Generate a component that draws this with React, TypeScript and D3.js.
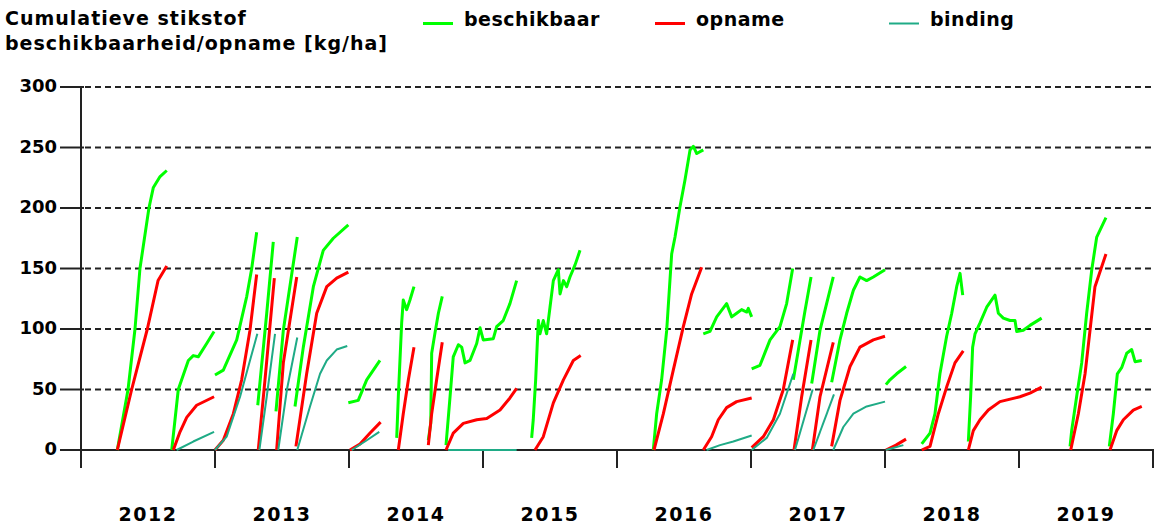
import React from 'react';
import * as d3 from 'd3';

type Pt = [number, number];

// cumulatieve N per teeltperiode: [jaar (decimaal), kg/ha]
const beschikbaar: Pt[][] = [
  [[2012.271, 0], [2012.351, 50], [2012.403, 100], [2012.44, 150], [2012.507, 200], [2012.54, 217], [2012.59, 226], [2012.64, 231]],
  [[2012.677, 0], [2012.726, 50], [2012.801, 74], [2012.838, 78], [2012.875, 77], [2012.938, 88], [2012.993, 98]],
  [[2013.0, 62], [2013.062, 66], [2013.162, 91], [2013.237, 127], [2013.274, 150], [2013.311, 180]],
  [[2013.319, 37], [2013.386, 113], [2013.435, 172]],
  [[2013.455, 32], [2013.51, 99], [2013.614, 176]],
  [[2013.597, 36], [2013.659, 85], [2013.734, 135], [2013.808, 165], [2013.883, 175], [2013.995, 186]],
  [[2013.995, 39], [2014.069, 41], [2014.132, 58], [2014.231, 74]],
  [[2014.356, 10], [2014.368, 44], [2014.393, 105], [2014.405, 124], [2014.43, 116], [2014.455, 124], [2014.485, 135]],
  [[2014.592, 8], [2014.61, 22], [2014.617, 80], [2014.642, 97], [2014.667, 113], [2014.696, 127]],
  [[2014.724, 4], [2014.754, 44], [2014.778, 77], [2014.816, 87], [2014.841, 85], [2014.866, 72], [2014.903, 74], [2014.953, 88], [2014.978, 101], [2015.002, 91], [2015.077, 92], [2015.102, 102], [2015.151, 107], [2015.201, 121], [2015.251, 140]],
  [[2015.363, 10], [2015.375, 25], [2015.393, 58], [2015.405, 88], [2015.413, 107], [2015.425, 96], [2015.45, 107], [2015.475, 96], [2015.5, 118], [2015.525, 140], [2015.562, 149], [2015.575, 129], [2015.6, 140], [2015.625, 135], [2015.649, 143], [2015.687, 153], [2015.724, 165]],
  [[2016.271, 0], [2016.296, 30], [2016.333, 58], [2016.371, 99], [2016.408, 162], [2016.433, 176], [2016.47, 201], [2016.507, 223], [2016.545, 248], [2016.57, 251], [2016.595, 245], [2016.644, 248]],
  [[2016.644, 96], [2016.694, 98], [2016.744, 110], [2016.818, 121], [2016.856, 110], [2016.893, 113], [2016.93, 116], [2016.968, 114], [2016.98, 117], [2017.005, 110]],
  [[2017.005, 67], [2017.067, 70], [2017.142, 91], [2017.216, 102], [2017.266, 121], [2017.311, 150]],
  [[2017.316, 58], [2017.366, 91], [2017.403, 115], [2017.448, 143]],
  [[2017.453, 55], [2017.515, 99], [2017.614, 143]],
  [[2017.602, 56], [2017.664, 91], [2017.714, 113], [2017.764, 132], [2017.813, 143], [2017.863, 140], [2017.913, 143], [2018.0, 149]],
  [[2018.007, 54], [2018.037, 58], [2018.087, 63], [2018.157, 69]],
  [[2018.274, 5], [2018.336, 14], [2018.373, 30], [2018.41, 63], [2018.46, 94], [2018.498, 113], [2018.535, 135], [2018.56, 146], [2018.58, 128]],
  [[2018.622, 7], [2018.639, 44], [2018.654, 85], [2018.672, 96], [2018.709, 105], [2018.759, 118], [2018.821, 128], [2018.846, 113], [2018.883, 109], [2018.933, 107], [2018.97, 107], [2018.983, 98], [2019.032, 99], [2019.082, 103], [2019.169, 109]],
  [[2019.381, 3], [2019.393, 16], [2019.43, 44], [2019.468, 72], [2019.505, 113], [2019.543, 149], [2019.58, 176], [2019.649, 192]],
  [[2019.674, 3], [2019.704, 30], [2019.734, 63], [2019.766, 68], [2019.804, 80], [2019.841, 83], [2019.866, 73], [2019.916, 74]],
];

const opname: Pt[][] = [
  [[2012.271, 0], [2012.378, 50], [2012.495, 100], [2012.575, 140], [2012.64, 152]],
  [[2012.689, 0], [2012.739, 15], [2012.789, 27], [2012.863, 37], [2012.993, 44]],
  [[2013.0, 0], [2013.062, 8], [2013.137, 30], [2013.199, 58], [2013.261, 99], [2013.311, 145]],
  [[2013.323, 0], [2013.373, 58], [2013.443, 142]],
  [[2013.46, 0], [2013.51, 72], [2013.61, 143]],
  [[2013.604, 3], [2013.684, 63], [2013.759, 113], [2013.834, 135], [2013.908, 142], [2013.995, 147]],
  [[2014.007, 0], [2014.082, 5], [2014.157, 14], [2014.236, 23]],
  [[2014.368, 0], [2014.405, 30], [2014.443, 58], [2014.485, 85]],
  [[2014.592, 4], [2014.617, 30], [2014.654, 58], [2014.696, 89]],
  [[2014.724, 0], [2014.778, 14], [2014.853, 22], [2014.953, 25], [2015.028, 26], [2015.127, 33], [2015.201, 43], [2015.251, 51]],
  [[2015.388, 0], [2015.45, 11], [2015.525, 39], [2015.6, 58], [2015.674, 74], [2015.729, 78]],
  [[2016.276, 0], [2016.346, 30], [2016.42, 66], [2016.495, 102], [2016.557, 129], [2016.632, 151]],
  [[2016.644, 0], [2016.706, 11], [2016.756, 25], [2016.818, 35], [2016.893, 40], [2017.005, 43]],
  [[2017.005, 2], [2017.092, 11], [2017.167, 25], [2017.241, 50], [2017.311, 91]],
  [[2017.321, 0], [2017.378, 44], [2017.448, 91]],
  [[2017.458, 0], [2017.515, 44], [2017.614, 89]],
  [[2017.602, 3], [2017.664, 41], [2017.739, 69], [2017.813, 85], [2017.913, 91], [2018.0, 94]],
  [[2018.007, 0], [2018.082, 4], [2018.157, 9]],
  [[2018.274, 0], [2018.336, 3], [2018.398, 30], [2018.46, 52], [2018.522, 72], [2018.584, 82]],
  [[2018.622, 0], [2018.659, 16], [2018.709, 25], [2018.771, 33], [2018.858, 40], [2019.007, 44], [2019.082, 47], [2019.169, 52]],
  [[2019.386, 0], [2019.443, 30], [2019.493, 63], [2019.53, 99], [2019.567, 135], [2019.649, 162]],
  [[2019.679, 0], [2019.729, 16], [2019.779, 25], [2019.853, 33], [2019.916, 36]],
];

const binding: Pt[][] = [
  [[2012.714, 0], [2012.838, 7], [2012.993, 15]],
  [[2013.0, 0], [2013.087, 11], [2013.187, 44], [2013.261, 74], [2013.316, 96]],
  [[2013.331, 0], [2013.386, 44], [2013.448, 96]],
  [[2013.472, 0], [2013.537, 50], [2013.614, 93]],
  [[2013.614, 0], [2013.709, 36], [2013.784, 63], [2013.834, 74], [2013.908, 83], [2013.987, 86]],
  [[2014.02, 0], [2014.119, 7], [2014.226, 15]],
  [[2014.739, 0], [2015.251, 0]],
  [[2016.669, 0], [2016.769, 4], [2016.868, 7], [2017.005, 12]],
  [[2017.005, 0], [2017.117, 10], [2017.216, 30], [2017.316, 63]],
  [[2017.328, 0], [2017.46, 50]],
  [[2017.465, 0], [2017.619, 46]],
  [[2017.614, 0], [2017.689, 19], [2017.764, 30], [2017.863, 36], [2018.0, 40]],
  [[2018.007, 0], [2018.137, 4]],
];

const years = [2012, 2013, 2014, 2015, 2016, 2017, 2018, 2019];
const yTicks = [0, 50, 100, 150, 200, 250, 300];

const legend = [
  { name: 'beschikbaar', color: '#00ff00', w: 3, x: 423 },
  { name: 'opname', color: '#ff0000', w: 3, x: 655 },
  { name: 'binding', color: '#1fab86', w: 2, x: 889 },
];

const FONT = '"DejaVu Sans", sans-serif';

export default function App() {
  const x = d3.scaleLinear().domain([2012, 2020]).range([81, 1153]);
  const y = d3.scaleLinear().domain([0, 300]).range([450, 87]);
  const line = d3.line<Pt>().x((d) => x(d[0])).y((d) => y(d[1]));
  const ticksX = d3.range(2012, 2021);

  const series = [
    { data: beschikbaar, ...legend[0] },
    { data: opname, ...legend[1] },
    { data: binding, ...legend[2] },
  ];

  return (
    <div style={{ position: 'absolute', left: 0, top: 0 }}>
      <svg width={1156} height={528} style={{ display: 'block', background: '#fff' }} fontFamily={FONT} fontWeight="bold">
        <text x={5} y={25} fontSize={19} letterSpacing={1}>Cumulatieve stikstof</text>
        <text x={5} y={50} fontSize={19} letterSpacing={1}>beschikbaarheid/opname [kg/ha]</text>

        {legend.map((l) => (
          <g key={l.name}>
            <line x1={l.x} x2={l.x + 30} y1={23.5} y2={23.5} stroke={l.color} strokeWidth={l.w} />
            <text x={l.x + 41} y={26} fontSize={19} letterSpacing={0.5}>{l.name}</text>
          </g>
        ))}

        {/* grid en y-as */}
        {yTicks.map((t) => (
          <g key={t}>
            {t > 0 && (
              <line x1={85} x2={1153} y1={y(t)} y2={y(t)} stroke="#222" strokeWidth={2} strokeDasharray="6,4" />
            )}
            <line x1={60} x2={84} y1={y(t)} y2={y(t)} stroke="#222" strokeWidth={2} />
            <text x={57} y={y(t) + 5} fontSize={18} textAnchor="end">{t}</text>
          </g>
        ))}
        <line x1={81} x2={81} y1={y(300)} y2={468} stroke="#222" strokeWidth={2} />
        <line x1={60} x2={1154} y1={y(0)} y2={y(0)} stroke="#222" strokeWidth={2} />
        {ticksX.map((t) => (
          <line key={t} x1={x(t)} x2={x(t)} y1={y(0)} y2={468} stroke="#222" strokeWidth={2} />
        ))}
        {years.map((yr) => (
          <text key={yr} x={x(yr + 0.5)} y={521} fontSize={19} letterSpacing={1.5} textAnchor="middle">{yr}</text>
        ))}

        {series.map((s) => (
          <g key={s.name}>
            {s.data.map((seg, i) => (
              <path key={i} d={line(seg) || ''} fill="none" stroke={s.color} strokeWidth={s.w} strokeLinejoin="round" />
            ))}
          </g>
        ))}
      </svg>
    </div>
  );
}
